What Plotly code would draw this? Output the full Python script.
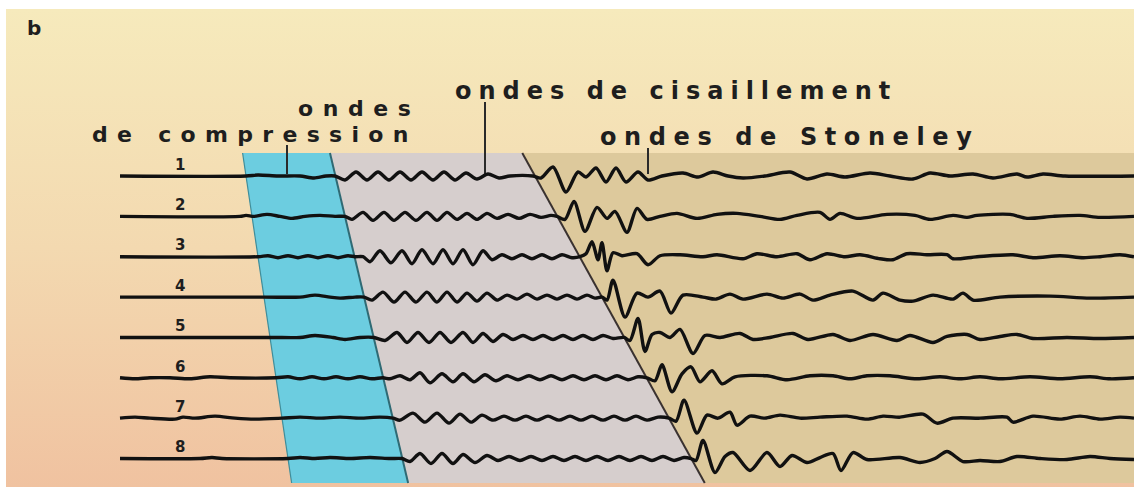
import numpy as np
import plotly.graph_objects as go

W, H = 1134, 489

receivers = [1, 2, 3, 4, 5, 6, 7, 8]
receiver_labels = ['1', '2', '3', '4', '5', '6', '7', '8']

# arrival times read on each trace (time axis in picture units)
t_p = [246, 252, 258, 264, 270, 276, 282, 288]      # compression onset
t_s = [335, 345, 355, 364, 374, 383, 393, 402]      # shear onset
t_st = [535, 557, 580, 602, 624, 647, 669, 691]     # Stoneley onset

# where the three leader lines touch trace 1
label_t = [287, 485, 648]

# waveforms as (time, amplitude) keypoints, amplitude positive upwards
wave_1 = [
    (120, 0), (246, 0), (258, 1), (278, 0), (300, 0), (314, -2), (326, 0), (335, 0),
    (345, -4), (356, 4), (367, -4), (378, 4), (389, -4), (400, 4), (411, -4),
    (422, 4), (433, -4), (444, 4), (455, -4), (466, 3), (477, -3), (488, 2),
    (499, -2), (510, 0), (533, 0),
    (541, -2), (553, 9), (566, -16), (578, 4), (586, -1), (596, 8), (606, -6),
    (616, 8), (626, -6), (638, 4), (648, -4), (662, 0), (683, 3), (698, -1),
    (713, 4), (728, 0), (743, -2), (765, 0), (790, 4), (807, -3), (827, 2),
    (845, -1), (870, 3), (890, 0), (913, -3), (930, 3), (950, 0), (973, 2),
    (993, -2), (1017, 2), (1027, -1), (1043, 2), (1065, 0), (1134, 0),
]
wave_2 = [
    (120, 0), (240, 0), (246, 1), (254, 0), (267, 2), (280, 0), (292, -2), (305, 0),
    (320, 1), (335, 0), (345, 0),
    (352, -3), (363, 4), (373, -4), (384, 4), (394, -4), (405, 4), (416, -4),
    (427, 4), (437, -4), (447, 4), (457, -3), (467, 3), (477, -3), (487, 3),
    (497, -2), (508, 2), (519, -2), (530, 2), (541, -1), (551, 1), (557, 0),
    (565, -3), (574, 15), (585, -15), (597, 9), (607, -2), (615, 5), (627, -16),
    (637, 8), (647, -3), (660, 0), (677, 3), (697, -2), (717, 2), (737, 3),
    (760, 0), (780, -3), (797, 1), (820, 4), (830, -3), (840, 3), (857, -2),
    (887, 2), (915, 1), (930, -3), (953, 1), (967, -1), (977, 1), (1010, 2),
    (1027, -2), (1053, 0), (1080, 1), (1100, -1), (1134, 0),
]
wave_3 = [
    (120, 0), (258, 0), (268, 1), (278, -1), (288, 1), (298, -1), (308, 1),
    (318, -1), (328, 1), (338, -1), (348, 1), (355, 0), (363, 0),
    (370, -5), (380, 6), (391, -6), (402, 6), (412, -7), (422, 7), (433, -7),
    (443, 7), (453, -7), (463, 7), (473, -8), (483, 6), (492, -3), (502, 2),
    (512, -2), (522, 2), (532, -2), (542, 2), (552, -2), (562, 2), (572, -1),
    (580, 0),
    (586, 3), (592, 15), (598, -3), (602, 14), (607, -14), (613, 4), (622, 1),
    (637, 3), (648, -8), (660, 1), (680, 2), (703, 0), (717, 2), (743, -2),
    (757, 3), (777, 0), (797, 3), (810, -3), (827, 3), (845, 0), (860, 2),
    (880, -2), (893, -3), (907, 3), (927, 2), (947, 2), (953, -2), (977, 0),
    (1013, 2), (1033, -1), (1060, 1), (1083, -1), (1100, 0), (1120, 2), (1134, 0),
]
wave_4 = [
    (120, 0), (264, 0), (300, 0), (315, 2), (330, 0), (340, -1), (355, 0), (364, 0),
    (372, -3), (383, 5), (394, -5), (405, 5), (416, -5), (427, 5), (437, -5),
    (447, 5), (457, -5), (467, 4), (477, -4), (487, 4), (497, -3), (507, 2),
    (517, -2), (527, 3), (537, -2), (547, 2), (557, -2), (567, 2), (577, -2),
    (587, 2), (595, -1), (602, 0),
    (607, -3), (613, 17), (625, -20), (637, 4), (648, 0), (660, 6), (671, -16),
    (683, 2), (703, 0), (716, -2), (730, 3), (743, -2), (767, 3), (783, -1),
    (800, 3), (813, -3), (830, 2), (853, 6), (873, -3), (883, 4), (900, -3),
    (913, -4), (933, 2), (953, -2), (963, 4), (973, -3), (1000, 0), (1050, 1),
    (1090, -1), (1134, 0),
]
wave_5 = [
    (120, 0), (270, 0), (300, 0), (315, 2), (333, 0), (345, -2), (360, 0), (374, 0),
    (385, -3), (397, 5), (407, -5), (418, 5), (429, -5), (440, 5), (451, -5),
    (463, 5), (473, -5), (483, 4), (493, -4), (503, 3), (513, -2), (523, 2),
    (533, -2), (543, 2), (553, -2), (563, 2), (573, -2), (583, 2), (593, -2),
    (603, 2), (613, -1), (624, 0),
    (630, -3), (638, 19), (645, -14), (652, 3), (660, 5), (670, 0), (680, 8),
    (693, -16), (705, 2), (720, 0), (740, 4), (753, -2), (770, 0), (793, 4),
    (808, -2), (833, 3), (850, -3), (873, 3), (897, -3), (910, 2), (933, -5),
    (947, 1), (967, 3), (980, -2), (1000, 1), (1017, 3), (1033, -1), (1067, 0),
    (1100, -1), (1134, 0),
]
wave_6 = [
    (120, 0), (135, -1), (150, 0), (170, 0), (190, -1), (210, 1), (230, 0), (276, 0),
    (288, 1), (300, -1), (312, 1), (324, -1), (336, 1), (348, -1), (360, 1),
    (372, -1), (383, 0),
    (390, -1), (400, 2), (410, -2), (420, 5), (430, -5), (442, 4), (453, -4),
    (463, 4), (474, -4), (485, 3), (496, -3), (507, 2), (518, -2), (529, 2),
    (540, -2), (551, 2), (562, -2), (573, 2), (584, -2), (595, 2), (606, -2),
    (617, 2), (628, -2), (638, 1), (647, 0),
    (655, -3), (662, 13), (672, -14), (682, 4), (691, 11), (700, -4), (712, 7),
    (722, -6), (735, 1), (767, 2), (787, -2), (810, 2), (833, 2), (850, -1),
    (867, 2), (890, 2), (917, -1), (940, 1), (960, -1), (980, 1), (1000, -1),
    (1030, 1), (1060, -1), (1090, 1), (1110, -1), (1134, 0),
]
wave_7 = [
    (120, 0), (135, 1), (150, 0), (175, -1), (183, 1), (195, 0), (215, 2), (235, 0),
    (255, -1), (282, 0), (300, 1), (320, 0), (340, 1), (360, 0), (380, 1), (393, 0),
    (400, -2), (413, 5), (425, -4), (437, 5), (449, -5), (460, 4), (471, -4),
    (482, 3), (493, -2), (504, 2), (515, -2), (526, 2), (537, -2), (548, 2),
    (559, -2), (570, 2), (581, -2), (592, 2), (603, -2), (614, 2), (625, -2),
    (636, 2), (647, -2), (658, 1), (669, 0),
    (676, -3), (684, 18), (697, -15), (707, 3), (718, 0), (730, 6), (737, -7),
    (750, 2), (765, 0), (780, 3), (800, 0), (820, 1), (847, 2), (867, -1),
    (883, 2), (900, 1), (923, 4), (937, -5), (953, 0), (980, 0), (1007, 1),
    (1013, -4), (1033, 2), (1060, -1), (1080, 2), (1100, -1), (1120, 1), (1134, 0),
]
wave_8 = [
    (120, 0), (200, 0), (212, 1), (222, 0), (288, 0), (300, 1), (315, 0), (330, 1),
    (350, 0), (370, 1), (390, 0), (402, 0),
    (410, -3), (420, 5), (431, -5), (442, 5), (453, -5), (463, 4), (475, -4),
    (487, 3), (498, -2), (509, 2), (520, -2), (531, 2), (542, -2), (553, 2),
    (564, -2), (575, 2), (586, -2), (597, 2), (608, -2), (619, 2), (630, -2),
    (641, 2), (652, -2), (663, 2), (674, -2), (684, 1), (691, 0),
    (696, -2), (703, 18), (715, -14), (725, 2), (733, 6), (750, -12), (767, 6),
    (780, -8), (792, 3), (807, -4), (820, 1), (833, 5), (841, -12), (853, 6),
    (867, -1), (900, 1), (920, -4), (935, 0), (947, 7), (963, -3), (980, -2),
    (1000, -3), (1017, 2), (1040, 0), (1067, -1), (1090, 2), (1110, 0), (1134, -1),
]
waves = [wave_1, wave_2, wave_3, wave_4, wave_5, wave_6, wave_7, wave_8]

# canvas: x is the time axis in pixel units, y is the receiver index
Y0, Y1 = -3.361, 8.755          # receiver units at top / bottom of canvas
def ry(px):
    return Y0 + (Y1 - Y0) * px / H
AMP = (Y1 - Y0) / H

r_top, r_bot = ry(153), ry(483)


def edge(times):
    k, b = np.polyfit(receivers, times, 1)
    return k * r_top + b, k * r_bot + b


def poly(fig, xs, ys, color):
    fig.add_trace(go.Scatter(
        x=xs + [xs[0]], y=ys + [ys[0]], mode='none', fill='toself',
        fillcolor=color, hoverinfo='skip', showlegend=False,
    ))


def seg(fig, xs, ys, color, width):
    fig.add_trace(go.Scatter(
        x=xs, y=ys, mode='lines', line=dict(color=color, width=width),
        hoverinfo='skip', showlegend=False,
    ))


fig = go.Figure()

# background with gradient
fig.add_trace(go.Scatter(
    x=[6, W, W, 6, 6], y=[ry(9), ry(9), ry(487), ry(487), ry(9)],
    mode='none', fill='toself',
    fillgradient=dict(type='vertical',
                      colorscale=[[0, '#F6EABC'], [0.5, '#F3D9B0'], [1, '#F0C2A0']],
                      start=ry(9), stop=ry(487)),
    hoverinfo='skip', showlegend=False,
))

p_top, p_bot = edge(t_p)
s_top, s_bot = edge(t_s)
st_top, st_bot = edge(t_st)

poly(fig, [st_top, W, W, st_bot], [r_top, r_top, r_bot, r_bot], '#DDC99C')
poly(fig, [s_top, st_top, st_bot, s_bot], [r_top, r_top, r_bot, r_bot], '#D6CECD')
poly(fig, [p_top, s_top, s_bot, p_bot], [r_top, r_top, r_bot, r_bot], '#6CCDE0')

seg(fig, [p_top, p_bot], [r_top, r_bot], '#3F8D9A', 1.2)
seg(fig, [s_top, s_bot], [r_top, r_bot], '#2F6A74', 2)
seg(fig, [st_top, st_bot], [r_top, r_bot], '#3A3230', 2)

# leader lines
for t, top_px in zip(label_t, [145, 102, 148]):
    seg(fig, [t, t], [ry(top_px), receivers[0] - 0.05], '#2A2A2A', 2)

# seismograms
for r, w in zip(receivers, waves):
    fig.add_trace(go.Scatter(
        x=[p[0] for p in w], y=[r - p[1] * AMP for p in w],
        mode='lines', line=dict(color='#111111', width=3.4, shape='spline', smoothing=0.8),
        hoverinfo='skip', showlegend=False,
    ))

font = dict(family='DejaVu Sans', size=24, color='#1E1E1E', weight='bold')


def label(text, x_px, y_px, spacing, size=24):
    fig.add_annotation(
        x=x_px + spacing / 2, y=ry(y_px), xref='x', yref='y',
        text=f'<span style="letter-spacing:{spacing}px">{text}</span>',
        showarrow=False, xanchor='center', yanchor='middle',
        font=dict(font, size=size),
    )


label('ondes', 355, 108, 9.6, size=22)
label('de compression', 250, 134.5, 9.3, size=22)
label('ondes de cisaillement', 672, 91, 7.0)
label('ondes de Stoneley', 786, 137, 7.6)
label('b', 34, 28, 0, size=20)

for r, lab in zip(receivers, receiver_labels):
    fig.add_annotation(
        x=180, y=r - 0.28, xref='x', yref='y', text=lab, showarrow=False,
        xanchor='center', yanchor='middle',
        font=dict(family='DejaVu Sans', size=15, color='#1E1E1E', weight='bold'),
    )

fig.update_layout(
    width=W, height=H,
    margin=dict(l=0, r=0, t=0, b=0),
    paper_bgcolor='white', plot_bgcolor='white',
    xaxis=dict(range=[0, W], visible=False, fixedrange=True),
    yaxis=dict(range=[Y1, Y0], visible=False, fixedrange=True),
    showlegend=False,
)

fig.write_html("out.html", config={'displayModeBar': False},
               post_script="document.body.style.margin='0';")
